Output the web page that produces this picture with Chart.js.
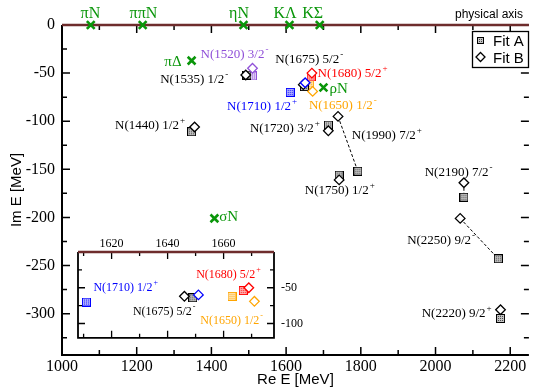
<!DOCTYPE html>
<html>
<head>
<meta charset="utf-8">
<script src="https://cdn.jsdelivr.net/npm/chart.js@4.4.0/dist/chart.umd.min.js"></script>
<style>
html, body { margin: 0; padding: 0; background: #fff; }
#wrap { position: relative; width: 537px; height: 390px; }
#main { position: absolute; left: 0; top: 0; }
#inset { position: absolute; left: 60px; top: 232px; }
</style>
</head>
<body>
<div id="wrap">
  <canvas id="main" width="537" height="390"></canvas>
  <canvas id="inset" width="260" height="120"></canvas>
</div>
<script>
"use strict";

// pole positions (Re E, Im E) in MeV, Fit A and Fit B
var resonances = ['N(1440) 1/2^+', 'N(1520) 3/2^-', 'N(1535) 1/2^-', 'N(1650) 1/2^-', 'N(1675) 5/2^-',
                  'N(1680) 5/2^+', 'N(1710) 1/2^+', 'N(1720) 3/2^+', 'N(1750) 1/2^+', 'N(1990) 7/2^+',
                  'N(2190) 7/2^-', 'N(2220) 9/2^+', 'N(2250) 9/2^-'];
var resColors = ['black', 'purple', 'black', 'orange', 'black', 'red', 'blue', 'black', 'black', 'black',
                 'black', 'black', 'black'];
var fitA_re = [1347, 1510, 1495, 1663, 1649, 1667, 1611, 1713, 1742, 1792, 2076, 2174, 2168];
var fitA_im = [-111, -53, -52, -62, -64, -54, -70, -104, -156, -152, -179, -305, -243];
var fitB_re = [1355, 1510, 1492, 1671, 1646, 1669, 1651, 1713, 1742, 1739, 2076, 2174, 2066];
var fitB_im = [-106, -45, -52, -69, -62, -50, -60, -110, -161, -95, -164, -296, -201];
// pairs joined by a dashed line
var linked = ['N(1990) 7/2^+', 'N(2190) 7/2^-', 'N(2250) 9/2^-'];

// branch points
var channels = ['πN', 'ππN', 'ηN', 'KΛ', 'KΣ', 'πΔ', 'ρN', 'σN'];
var branch_re = [1077, 1216, 1486, 1609, 1690, 1347, 1700, 1408];
var branch_im = [0, 0, 0, 0, 0, -37, -65, -201];

// ticks
var xTicks = [1000, 1200, 1400, 1600, 1800, 2000, 2200];
var yTicks = [0, -50, -100, -150, -200, -250, -300];
var insetXTicks = [1620, 1640, 1660];
var insetYTicks = [-50, -100];

// where the text labels sit (data units, left end / baseline)
var labelRe = [1142, 1371, 1263, 1661, 1571, 1684, 1442, 1503, 1650, 1776, 1971, 1963, 1924];
var labelIm = [-108, -34, -60, -87, -40, -54, -88, -111, -176, -119, -157, -304, -228];
var chanLabelRe = [1076, 1218, 1474, 1597, 1671, 1274, 1716, 1421];
var chanLabelIm = [7, 7, 7, 7, 7, -43, -71, -204];
var insetLabels = ['N(1710) 1/2^+', 'N(1680) 5/2^+', 'N(1675) 5/2^-', 'N(1650) 1/2^-'];
var insetLabelRe = [1613.5, 1650.2, 1627.6, 1651.7];
var insetLabelIm = [-54, -36, -87.5, -101];

var SERIF = '"Liberation Serif", "DejaVu Serif", serif';
var SANS = '"Liberation Sans", Arial, sans-serif';
var colorOf = {
    black: '#000000', purple: '#9050d8', orange: '#ffa500',
    red: '#ff0000', blue: '#0000ff', green: '#0a960a'
};
var AXIS_RED = '#6e2c2c';

// patterned square used for Fit A
function squareSymbol(name, size) {
    var col = colorOf[name];
    var c = document.createElement('canvas');
    c.width = c.height = size;
    var g = c.getContext('2d');
    g.fillStyle = '#fff';
    g.fillRect(0, 0, size, size);
    if (name === 'black') {
        g.fillStyle = '#c4c4c4';
        g.fillRect(1, 1, size - 2, size - 2);
        g.fillStyle = '#444';
    } else {
        g.globalAlpha = 0.3;
        g.fillStyle = col;
        g.fillRect(1, 1, size - 2, size - 2);
        g.globalAlpha = 0.85;
    }
    for (var i = 1; i < size - 1; i++) {
        for (var j = 1; j < size - 1; j++) {
            if (i % 2 === 0 && j % 2 === 0) g.fillRect(i, j, 1, 1);
        }
    }
    g.globalAlpha = 1;
    g.strokeStyle = col;
    g.lineWidth = 1;
    g.strokeRect(0.5, 0.5, size - 1, size - 1);
    return c;
}

var squares = {}, legendSquare = squareSymbol('black', 7);
Object.keys(colorOf).forEach(function (k) { squares[k] = squareSymbol(k, 9); });

function drawLabel(ctx, text, x, y, size, color, align) {
    var parts = text.split('^');
    ctx.fillStyle = color;
    ctx.font = size + 'px ' + SERIF;
    ctx.textBaseline = 'alphabetic';
    ctx.textAlign = 'left';
    var w = ctx.measureText(parts[0]).width;
    if (align === 'center') x -= w / 2;
    ctx.fillText(parts[0], x, y);
    if (parts[1]) {
        ctx.font = Math.round(size * 0.7) + 'px ' + SERIF;
        ctx.fillText(parts[1], x + w + 1, y - 6);
    }
}

function drawTicks(ctx, a, xs, ys, xMajor, xStep, yMajor, yStep, big, small) {
    var v, p;
    ctx.beginPath();
    for (v = xs.min - xs.min % xStep; v <= xs.max; v += xStep) {
        if (v < xs.min) continue;
        p = xs.getPixelForValue(v);
        var l = xMajor.indexOf(v) >= 0 ? big : small;
        ctx.moveTo(p, a.bottom); ctx.lineTo(p, a.bottom - l);
        ctx.moveTo(p, a.top); ctx.lineTo(p, a.top + l);
    }
    for (v = 0; v >= ys.min; v -= yStep) {
        if (v > ys.max) continue;
        p = ys.getPixelForValue(v);
        var m = yMajor.indexOf(v) >= 0 ? big : small;
        ctx.moveTo(a.left, p); ctx.lineTo(a.left + m, p);
        ctx.moveTo(a.right, p); ctx.lineTo(a.right - m, p);
    }
    ctx.stroke();
}

function plain(v) { return String(v); }

function pts(re, im, idx) {
    return idx.map(function (i) { return {x: re[i], y: im[i]}; });
}

var allIdx = resonances.map(function (r, i) { return i; });

function buildDatasets(idxA, idxB, withExtras, sq) {
    var ds = [];
    ds.push({
        data: pts(fitB_re, fitB_im, idxB),
        pointStyle: 'rectRot',
        pointRadius: 4.8,
        pointBorderWidth: 1.3,
        pointBorderColor: idxB.map(function (i) { return colorOf[resColors[i]]; }),
        pointBackgroundColor: '#ffffff',
        order: 0,
        clip: false
    });
    ds.push({
        data: pts(fitA_re, fitA_im, idxA),
        pointStyle: idxA.map(function (i) { return sq[resColors[i]]; }),
        pointRadius: 5,
        order: 1,
        clip: false
    });
    if (withExtras) {
        ds.push({
            data: pts(branch_re, branch_im, allIdx.slice(0, channels.length)),
            pointStyle: 'crossRot',
            pointRadius: 5.5,
            pointBorderWidth: 2.6,
            pointBorderColor: colorOf.green,
            order: 2,
            clip: false
        });
        linked.forEach(function (name) {
            var i = resonances.indexOf(name);
            ds.push({
                data: [{x: fitB_re[i], y: fitB_im[i]}, {x: fitA_re[i], y: fitA_im[i]}],
                showLine: true,
                borderColor: '#000',
                borderWidth: 1,
                borderDash: [3, 2],
                pointRadius: 0,
                order: 3,
                clip: false
            });
        });
    }
    return ds;
}

var mainDecor = {
    id: 'mainDecor',
    beforeDatasetsDraw: function (chart) {
        var ctx = chart.ctx, a = chart.chartArea, xs = chart.scales.x, ys = chart.scales.y;
        ctx.save();
        ctx.strokeStyle = '#000';
        ctx.lineWidth = 1.5;
        drawTicks(ctx, a, xs, ys, xTicks, 100, yTicks, 25, 8, 5);
        ctx.lineWidth = 2;
        ctx.beginPath();
        ctx.moveTo(a.left, a.top);
        ctx.lineTo(a.left, a.bottom);
        ctx.lineTo(a.right, a.bottom);
        ctx.stroke();
        // physical axis at Im E = 0
        ctx.strokeStyle = AXIS_RED;
        ctx.lineWidth = 2.5;
        ctx.beginPath();
        ctx.moveTo(a.left, ys.getPixelForValue(0));
        ctx.lineTo(a.right, ys.getPixelForValue(0));
        ctx.stroke();
        ctx.restore();
    },
    afterDatasetsDraw: function (chart) {
        var ctx = chart.ctx, xs = chart.scales.x, ys = chart.scales.y;
        ctx.save();
        resonances.forEach(function (name, i) {
            drawLabel(ctx, name, xs.getPixelForValue(labelRe[i]), ys.getPixelForValue(labelIm[i]),
                      13, colorOf[resColors[i]]);
        });
        channels.forEach(function (name, i) {
            drawLabel(ctx, name, xs.getPixelForValue(chanLabelRe[i]), ys.getPixelForValue(chanLabelIm[i]),
                      i < 5 ? 16 : 15, colorOf.green, i < 5 ? 'center' : 'left');
        });
        ctx.fillStyle = '#000';
        ctx.font = '12px ' + SANS;
        ctx.textAlign = 'right';
        ctx.fillText('physical axis', 523, 18);
        // legend
        ctx.fillStyle = '#fff';
        ctx.fillRect(472, 31, 56, 36);
        ctx.strokeStyle = '#000';
        ctx.lineWidth = 1.3;
        ctx.strokeRect(472.5, 31.5, 56, 36);
        ctx.drawImage(legendSquare, 477, 37);
        ctx.beginPath();
        ctx.moveTo(480.5, 52.5); ctx.lineTo(485, 57); ctx.lineTo(480.5, 61.5); ctx.lineTo(476, 57);
        ctx.closePath();
        ctx.stroke();
        ctx.fillStyle = '#000';
        ctx.font = '15px ' + SANS;
        ctx.textAlign = 'left';
        ctx.fillText('Fit A', 493, 46);
        ctx.fillText('Fit B', 493, 63);
        ctx.restore();
    }
};

new Chart(document.getElementById('main'), {
    type: 'scatter',
    data: {datasets: buildDatasets(allIdx, allIdx, true, squares)},
    options: {
        responsive: false,
        animation: false,
        devicePixelRatio: 1,
        events: [],
        layout: {padding: {top: 25, right: 0, left: 0, bottom: 0}},
        plugins: {legend: {display: false}, tooltip: {enabled: false}},
        scales: {
            x: {
                type: 'linear', min: 1000, max: 2250,
                grid: {display: false, drawTicks: false},
                border: {display: false},
                afterBuildTicks: function (s) { s.ticks = xTicks.map(function (v) { return {value: v}; }); },
                afterFit: function (s) { s.height = 35; },
                ticks: {font: {family: SERIF, size: 16}, color: '#000', padding: 2, maxRotation: 0,
                        autoSkip: false, callback: plain},
                title: {display: true, text: 'Re E [MeV]', font: {family: SANS, size: 15}, color: '#000',
                        padding: {top: 0, bottom: 1}}
            },
            y: {
                type: 'linear', min: -343, max: 0,
                grid: {display: false, drawTicks: false},
                border: {display: false},
                afterBuildTicks: function (s) { s.ticks = yTicks.map(function (v) { return {value: v}; }); },
                afterFit: function (s) { s.width = 62; },
                ticks: {font: {family: SERIF, size: 16}, color: '#000', padding: 7, autoSkip: false,
                        callback: plain},
                title: {display: true, text: 'Im E [MeV]', font: {family: SANS, size: 15}, color: '#000',
                        padding: {top: 8, bottom: 0}}
            }
        }
    },
    plugins: [mainDecor]
});

// inset: zoom on the 1610-1680 MeV region
var inXMin = 1608, inXMax = 1678, inYMin = -120, inYMax = 0;
function inInset(re, im) {
    return allIdx.filter(function (i) {
        return re[i] >= inXMin && re[i] <= inXMax && im[i] >= inYMin && im[i] <= inYMax;
    });
}

var insetDecor = {
    id: 'insetDecor',
    beforeDraw: function (chart) {
        var a = chart.chartArea, ctx = chart.ctx;
        ctx.save();
        ctx.fillStyle = '#fff';
        ctx.fillRect(a.left, a.top, a.right - a.left, a.bottom - a.top);
        ctx.restore();
    },
    beforeDatasetsDraw: function (chart) {
        var ctx = chart.ctx, a = chart.chartArea, xs = chart.scales.x, ys = chart.scales.y;
        ctx.save();
        ctx.strokeStyle = '#000';
        ctx.lineWidth = 1.3;
        drawTicks(ctx, a, xs, ys, insetXTicks, 10, insetYTicks.concat([0]), 25, 7, 4);
        ctx.lineWidth = 1.8;
        ctx.beginPath();
        ctx.moveTo(a.left, a.top);
        ctx.lineTo(a.left, a.bottom);
        ctx.lineTo(a.right, a.bottom);
        ctx.lineTo(a.right, a.top);
        ctx.stroke();
        ctx.strokeStyle = AXIS_RED;
        ctx.lineWidth = 2.5;
        ctx.beginPath();
        ctx.moveTo(a.left, a.top);
        ctx.lineTo(a.right, a.top);
        ctx.stroke();
        ctx.restore();
    },
    afterDatasetsDraw: function (chart) {
        var ctx = chart.ctx, xs = chart.scales.x, ys = chart.scales.y;
        ctx.save();
        insetLabels.forEach(function (name, k) {
            var i = resonances.indexOf(name);
            drawLabel(ctx, name, xs.getPixelForValue(insetLabelRe[k]), ys.getPixelForValue(insetLabelIm[k]),
                      12, colorOf[resColors[i]]);
        });
        ctx.restore();
    }
};

new Chart(document.getElementById('inset'), {
    type: 'scatter',
    data: {datasets: buildDatasets(inInset(fitA_re, fitA_im), inInset(fitB_re, fitB_im), false, squares)},
    options: {
        responsive: false,
        animation: false,
        devicePixelRatio: 1,
        events: [],
        layout: {padding: {top: 0, right: 10, left: 18, bottom: 5}},
        plugins: {legend: {display: false}, tooltip: {enabled: false}},
        scales: {
            x: {
                type: 'linear', position: 'top', min: inXMin, max: inXMax,
                grid: {display: false, drawTicks: false},
                border: {display: false},
                afterBuildTicks: function (s) { s.ticks = insetXTicks.map(function (v) { return {value: v}; }); },
                afterFit: function (s) { s.height = 20; },
                ticks: {font: {family: SERIF, size: 12}, color: '#000', padding: 1, maxRotation: 0,
                        autoSkip: false, callback: plain}
            },
            y: {
                type: 'linear', position: 'right', min: inYMin, max: inYMax,
                grid: {display: false, drawTicks: false},
                border: {display: false},
                afterBuildTicks: function (s) { s.ticks = insetYTicks.map(function (v) { return {value: v}; }); },
                afterFit: function (s) { s.width = 36; },
                ticks: {font: {family: SERIF, size: 12}, color: '#000', padding: 7, autoSkip: false,
                        callback: plain}
            }
        }
    },
    plugins: [insetDecor]
});
</script>
</body>
</html>
